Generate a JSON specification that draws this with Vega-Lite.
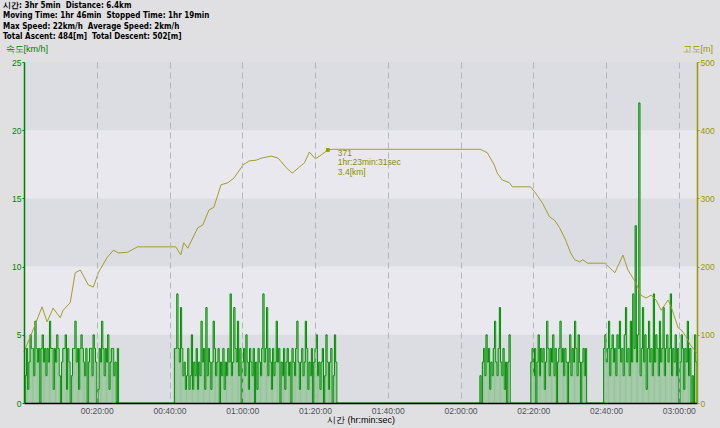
{
"$schema": "https://vega.github.io/schema/vega-lite/v6.json",
"width": 673, "height": 341,
"autosize": {"type": "none"},
"padding": {"left": 24, "top": 62, "right": 23, "bottom": 25},
"background": "#e0e0e2",
"config": {"view": {"fill": "#e8e8ee", "stroke": null}, "font": "Liberation Sans"},
"title": {"text": ["시간: 3hr 5min\u00a0\u00a0Distance: 6.4km", "Moving Time: 1hr 46min\u00a0\u00a0Stopped Time: 1hr 19min", "Max Speed: 22km/h\u00a0\u00a0Average Speed: 2km/h", "Total Ascent: 484[m]\u00a0\u00a0Total Descent: 502[m]"], "anchor": "start", "frame": "bounds", "font": "DejaVu Sans Condensed, Liberation Sans", "fontSize": 8, "fontWeight": "bold", "lineHeight": 10.5, "color": "#000000", "offset": 3, "dx": -2},
"datasets": {
"bands": [{"lo": 0, "hi": 5}, {"lo": 10, "hi": 15}, {"lo": 20, "hi": 25}],
"speed": [
{"t":0,"v":0},{"t":20,"v":2},{"t":40,"v":4},{"t":60,"v":1},{"t":80,"v":3},{"t":100,"v":5},{"t":120,"v":4},{"t":140,"v":4},{"t":160,"v":2},{"t":180,"v":6},{"t":200,"v":4},{"t":220,"v":3},{"t":240,"v":4},{"t":260,"v":0},{"t":280,"v":4},{"t":300,"v":5},{"t":320,"v":3},{"t":340,"v":4},{"t":360,"v":2},{"t":380,"v":4},{"t":400,"v":3},{"t":420,"v":6},{"t":440,"v":4},{"t":460,"v":4},{"t":480,"v":1},{"t":500,"v":4},{"t":520,"v":3},{"t":540,"v":5},{"t":560,"v":4},{"t":580,"v":2},{"t":600,"v":0},{"t":620,"v":3},{"t":640,"v":4},{"t":660,"v":4},{"t":680,"v":5},{"t":700,"v":1},{"t":720,"v":4},{"t":740,"v":3},{"t":760,"v":0},{"t":780,"v":2},{"t":800,"v":4},{"t":820,"v":4},{"t":840,"v":6},{"t":860,"v":3},{"t":880,"v":4},{"t":900,"v":1},{"t":920,"v":4},{"t":940,"v":5},{"t":960,"v":4},{"t":980,"v":3},{"t":1000,"v":2},{"t":1020,"v":4},{"t":1040,"v":0},{"t":1060,"v":3},{"t":1080,"v":4},{"t":1100,"v":4},{"t":1120,"v":2},{"t":1140,"v":5},{"t":1160,"v":4},{"t":1180,"v":3},{"t":1200,"v":0},{"t":1220,"v":1},{"t":1240,"v":4},{"t":1260,"v":3},{"t":1280,"v":6},{"t":1300,"v":4},{"t":1320,"v":2},{"t":1340,"v":4},{"t":1360,"v":3},{"t":1380,"v":5},{"t":1400,"v":1},{"t":1420,"v":3},{"t":1440,"v":4},{"t":1460,"v":4},{"t":1480,"v":2},{"t":1500,"v":3},{"t":1520,"v":0},{"t":1540,"v":4},{"t":1560,"v":0},
{"t":2460,"v":0},{"t":2480,"v":4},{"t":2500,"v":4},{"t":2520,"v":8},{"t":2540,"v":4},{"t":2560,"v":3},{"t":2580,"v":7},{"t":2600,"v":4},{"t":2620,"v":2},{"t":2640,"v":3},{"t":2660,"v":1},{"t":2680,"v":2},{"t":2700,"v":4},{"t":2720,"v":1},{"t":2740,"v":2},{"t":2760,"v":5},{"t":2780,"v":1},{"t":2800,"v":3},{"t":2820,"v":2},{"t":2840,"v":4},{"t":2860,"v":1},{"t":2880,"v":3},{"t":2900,"v":2},{"t":2920,"v":6},{"t":2940,"v":3},{"t":2960,"v":4},{"t":2980,"v":1},{"t":3000,"v":7},{"t":3020,"v":2},{"t":3040,"v":4},{"t":3060,"v":3},{"t":3080,"v":1},{"t":3100,"v":3},{"t":3120,"v":6},{"t":3140,"v":4},{"t":3160,"v":2},{"t":3180,"v":3},{"t":3200,"v":4},{"t":3220,"v":0},{"t":3240,"v":3},{"t":3260,"v":2},{"t":3280,"v":4},{"t":3300,"v":1},{"t":3320,"v":3},{"t":3340,"v":2},{"t":3360,"v":4},{"t":3380,"v":3},{"t":3400,"v":8},{"t":3420,"v":2},{"t":3440,"v":3},{"t":3460,"v":7},{"t":3480,"v":4},{"t":3500,"v":3},{"t":3520,"v":6},{"t":3540,"v":2},{"t":3560,"v":4},{"t":3580,"v":0},{"t":3600,"v":3},{"t":3620,"v":4},{"t":3640,"v":2},{"t":3660,"v":5},{"t":3680,"v":3},{"t":3700,"v":1},{"t":3720,"v":4},{"t":3740,"v":3},{"t":3760,"v":2},{"t":3780,"v":4},{"t":3800,"v":0},{"t":3820,"v":3},{"t":3840,"v":1},{"t":3860,"v":4},{"t":3880,"v":3},{"t":3900,"v":2},{"t":3920,"v":4},{"t":3940,"v":8},{"t":3960,"v":3},{"t":3980,"v":4},{"t":4000,"v":7},{"t":4020,"v":2},{"t":4040,"v":4},{"t":4060,"v":3},{"t":4080,"v":1},{"t":4100,"v":4},{"t":4120,"v":2},{"t":4140,"v":3},{"t":4160,"v":6},{"t":4180,"v":3},{"t":4200,"v":4},{"t":4220,"v":0},{"t":4240,"v":3},{"t":4260,"v":2},{"t":4280,"v":4},{"t":4300,"v":1},{"t":4320,"v":3},{"t":4340,"v":4},{"t":4360,"v":2},{"t":4380,"v":3},{"t":4400,"v":0},{"t":4420,"v":4},{"t":4440,"v":3},{"t":4460,"v":2},{"t":4480,"v":4},{"t":4500,"v":6},{"t":4520,"v":3},{"t":4540,"v":1},{"t":4560,"v":3},{"t":4580,"v":4},{"t":4600,"v":2},{"t":4620,"v":3},{"t":4640,"v":6},{"t":4660,"v":4},{"t":4680,"v":1},{"t":4700,"v":3},{"t":4720,"v":2},{"t":4740,"v":4},{"t":4760,"v":0},{"t":4780,"v":3},{"t":4800,"v":4},{"t":4820,"v":5},{"t":4840,"v":2},{"t":4860,"v":3},{"t":4880,"v":1},{"t":4900,"v":3},{"t":4920,"v":4},{"t":4940,"v":0},{"t":4960,"v":2},{"t":4980,"v":5},{"t":5000,"v":3},{"t":5020,"v":1},{"t":5040,"v":3},{"t":5060,"v":4},{"t":5080,"v":0},{"t":5100,"v":2},{"t":5120,"v":5},{"t":5140,"v":3},{"t":5160,"v":0},
{"t":7500,"v":0},{"t":7520,"v":2},{"t":7540,"v":0},{"t":7560,"v":3},{"t":7580,"v":4},{"t":7600,"v":2},{"t":7620,"v":5},{"t":7640,"v":3},{"t":7660,"v":4},{"t":7680,"v":1},{"t":7700,"v":3},{"t":7720,"v":2},{"t":7740,"v":4},{"t":7760,"v":6},{"t":7780,"v":3},{"t":7800,"v":2},{"t":7820,"v":4},{"t":7840,"v":7},{"t":7860,"v":3},{"t":7880,"v":2},{"t":7900,"v":4},{"t":7920,"v":1},{"t":7940,"v":3},{"t":7960,"v":0},{"t":7980,"v":3},{"t":8000,"v":5},{"t":8020,"v":0},
{"t":8340,"v":0},{"t":8360,"v":3},{"t":8380,"v":4},{"t":8400,"v":2},{"t":8420,"v":4},{"t":8440,"v":0},{"t":8460,"v":3},{"t":8480,"v":5},{"t":8500,"v":2},{"t":8520,"v":4},{"t":8540,"v":3},{"t":8560,"v":4},{"t":8580,"v":1},{"t":8600,"v":3},{"t":8620,"v":6},{"t":8640,"v":4},{"t":8660,"v":2},{"t":8680,"v":4},{"t":8700,"v":3},{"t":8720,"v":5},{"t":8740,"v":2},{"t":8760,"v":4},{"t":8780,"v":0},{"t":8800,"v":3},{"t":8820,"v":4},{"t":8840,"v":6},{"t":8860,"v":3},{"t":8880,"v":4},{"t":8900,"v":2},{"t":8920,"v":4},{"t":8940,"v":3},{"t":8960,"v":0},{"t":8980,"v":3},{"t":9000,"v":5},{"t":9020,"v":2},{"t":9040,"v":4},{"t":9060,"v":3},{"t":9080,"v":6},{"t":9100,"v":4},{"t":9120,"v":2},{"t":9140,"v":5},{"t":9160,"v":3},{"t":9180,"v":0},{"t":9200,"v":3},{"t":9220,"v":4},{"t":9240,"v":2},{"t":9260,"v":4},{"t":9280,"v":0},
{"t":9540,"v":0},{"t":9560,"v":4},{"t":9580,"v":5},{"t":9600,"v":3},{"t":9620,"v":4},{"t":9640,"v":6},{"t":9660,"v":2},{"t":9680,"v":4},{"t":9700,"v":5},{"t":9720,"v":3},{"t":9740,"v":4},{"t":9760,"v":2},{"t":9780,"v":5},{"t":9800,"v":4},{"t":9820,"v":6},{"t":9840,"v":3},{"t":9860,"v":4},{"t":9880,"v":2},{"t":9900,"v":5},{"t":9920,"v":7},{"t":9940,"v":3},{"t":9960,"v":4},{"t":9980,"v":2},{"t":10000,"v":6},{"t":10020,"v":3},{"t":10040,"v":8},{"t":10060,"v":4},{"t":10080,"v":13},{"t":10100,"v":3},{"t":10120,"v":5},{"t":10140,"v":22},{"t":10160,"v":2},{"t":10180,"v":4},{"t":10200,"v":7},{"t":10220,"v":3},{"t":10240,"v":5},{"t":10260,"v":1},{"t":10280,"v":4},{"t":10300,"v":6},{"t":10320,"v":3},{"t":10340,"v":4},{"t":10360,"v":2},{"t":10380,"v":8},{"t":10400,"v":3},{"t":10420,"v":5},{"t":10440,"v":4},{"t":10460,"v":2},{"t":10480,"v":6},{"t":10500,"v":3},{"t":10520,"v":4},{"t":10540,"v":7},{"t":10560,"v":2},{"t":10580,"v":4},{"t":10600,"v":5},{"t":10620,"v":3},{"t":10640,"v":4},{"t":10660,"v":8},{"t":10680,"v":2},{"t":10700,"v":4},{"t":10720,"v":3},{"t":10740,"v":5},{"t":10760,"v":2},{"t":10780,"v":4},{"t":10800,"v":0},{"t":10820,"v":3},{"t":10840,"v":5},{"t":10860,"v":4},{"t":10880,"v":1},{"t":10900,"v":4},{"t":10920,"v":3},{"t":10940,"v":6},{"t":10960,"v":2},{"t":10980,"v":4},{"t":11000,"v":0},{"t":11020,"v":2},{"t":11040,"v":0},{"t":11060,"v":5},{"t":11080,"v":3},{"t":11100,"v":0}
],
"elev": [
{"t":0,"e":75},{"t":149,"e":107},{"t":298,"e":141},{"t":381,"e":119},{"t":481,"e":139},{"t":597,"e":125},{"t":646,"e":136},{"t":762,"e":147},{"t":845,"e":191},{"t":928,"e":195},{"t":1061,"e":173},{"t":1144,"e":170},{"t":1226,"e":191},{"t":1376,"e":214},{"t":1475,"e":224},{"t":1558,"e":220},{"t":1707,"e":221},{"t":1873,"e":229},{"t":1972,"e":229},{"t":2503,"e":229},{"t":2586,"e":217},{"t":2635,"e":235},{"t":2702,"e":227},{"t":2867,"e":257},{"t":2950,"e":261},{"t":3050,"e":283},{"t":3132,"e":287},{"t":3249,"e":320},{"t":3365,"e":323},{"t":3464,"e":330},{"t":3613,"e":349},{"t":3713,"e":355},{"t":3829,"e":356},{"t":3911,"e":359},{"t":4077,"e":362},{"t":4193,"e":359},{"t":4326,"e":345},{"t":4425,"e":337},{"t":4541,"e":346},{"t":4624,"e":352},{"t":4707,"e":368},{"t":4806,"e":358},{"t":4906,"e":364},{"t":5011,"e":371},{"t":5100,"e":372},{"t":7525,"e":372},{"t":7641,"e":367},{"t":7757,"e":349},{"t":7806,"e":337},{"t":7889,"e":327},{"t":8005,"e":323},{"t":8055,"e":317},{"t":8353,"e":317},{"t":8436,"e":308},{"t":8552,"e":293},{"t":8668,"e":273},{"t":8751,"e":268},{"t":8834,"e":257},{"t":8933,"e":239},{"t":9016,"e":220},{"t":9083,"e":210},{"t":9165,"e":207},{"t":9215,"e":210},{"t":9298,"e":205},{"t":9580,"e":205},{"t":9663,"e":198},{"t":9746,"e":191},{"t":9878,"e":217},{"t":9961,"e":195},{"t":10094,"e":176},{"t":10177,"e":158},{"t":10259,"e":154},{"t":10342,"e":158},{"t":10425,"e":151},{"t":10508,"e":136},{"t":10624,"e":151},{"t":10674,"e":141},{"t":10790,"e":110},{"t":10840,"e":107},{"t":10923,"e":97},{"t":10989,"e":85},{"t":11100,"e":73}
],
"marker": [{"t": 5011, "e": 371, "label": "371\n1hr:23min:31sec\n3.4[km]"}]
},
"layer": [
{"layer": [
{"data": {"name": "bands"}, "mark": {"type": "rect", "color": "#dcdce3"},
 "encoding": {"y": {"field": "lo", "type": "quantitative", "scale": {"domain": [0, 25], "nice": false, "zero": true}}, "y2": {"field": "hi"}}},
{"data": {"name": "speed"}, "mark": {"type": "rule", "color": "#3aa83a", "strokeWidth": 1, "opacity": 0.45},
 "encoding": {
  "x": {"field": "t", "type": "quantitative", "scale": {"domain": [0, 11100], "nice": false, "zero": false}},
  "y": {"field": "v", "type": "quantitative"},
  "y2": {"datum": 0}
 }},
{"data": {"name": "speed"}, "mark": {"type": "line", "interpolate": "step-after", "color": "#009000", "strokeWidth": 1},
 "encoding": {
  "x": {"field": "t", "type": "quantitative", "scale": {"domain": [0, 11100], "nice": false, "zero": false},
   "axis": {"values": [1200, 2400, 3600, 4800, 6000, 7200, 8400, 9600, 10800], "labelExpr": "utcFormat(datum.value*1000, '%H:%M:%S')", "grid": true, "gridDash": [6, 4], "gridColor": "#b4b4bc", "gridWidth": 1, "domainColor": "#000000", "domainWidth": 1.5, "ticks": false, "labelPadding": 3, "labelFontSize": 8.5, "labelColor": "#50505a", "title": "시간 (hr:min:sec)", "titleFontSize": 9, "titleFontWeight": "normal", "titleColor": "#000000", "titlePadding": 1, "zindex": 1}},
  "y": {"field": "v", "type": "quantitative", "scale": {"domain": [0, 25], "nice": false, "zero": true},
   "axis": {"orient": "left", "values": [0, 5, 10, 15, 20, 25], "grid": false, "domainColor": "#008000", "domainWidth": 1.5, "tickColor": "#008000", "tickSize": 2, "labelColor": "#008000", "labelFontSize": 8.5, "labelPadding": 1, "title": "속도[km/h]", "titleColor": "#008000", "titleFontSize": 9, "titleFontWeight": "normal", "titleAngle": 0, "titleAlign": "left", "titleBaseline": "middle", "titleX": -19, "titleY": -14, "zindex": 1}}
 }}
]},
{"layer": [
{"data": {"name": "elev"}, "mark": {"type": "line", "color": "#a0a028", "strokeWidth": 1},
 "encoding": {
  "x": {"field": "t", "type": "quantitative", "scale": {"domain": [0, 11100], "nice": false, "zero": false}},
  "y": {"field": "e", "type": "quantitative", "scale": {"domain": [0, 500], "nice": false, "zero": true},
   "axis": {"orient": "right", "values": [0, 100, 200, 300, 400, 500], "grid": false, "domainColor": "#999900", "domainWidth": 1.5, "tickColor": "#999900", "tickSize": 2, "labelColor": "#999900", "labelFontSize": 8.5, "labelPadding": 1, "title": "고도[m]", "titleColor": "#999900", "titleFontSize": 9, "titleFontWeight": "normal", "titleAngle": 0, "titleAlign": "left", "titleBaseline": "middle", "titleX": -15, "titleY": -14, "zindex": 1}}
 }},
{"data": {"name": "marker"}, "mark": {"type": "square", "color": "#999900", "filled": true, "size": 14, "opacity": 1},
 "encoding": {"x": {"field": "t", "type": "quantitative"}, "y": {"field": "e", "type": "quantitative"}}},
{"data": {"name": "marker"}, "mark": {"type": "text", "color": "#8c8c00", "align": "left", "baseline": "top", "dx": 10, "dy": -1, "fontSize": 8.5, "lineHeight": 9.5, "lineBreak": "\n"},
 "encoding": {"x": {"field": "t", "type": "quantitative"}, "y": {"field": "e", "type": "quantitative"}, "text": {"field": "label"}}}
]}
],
"resolve": {"scale": {"y": "independent"}}
}
